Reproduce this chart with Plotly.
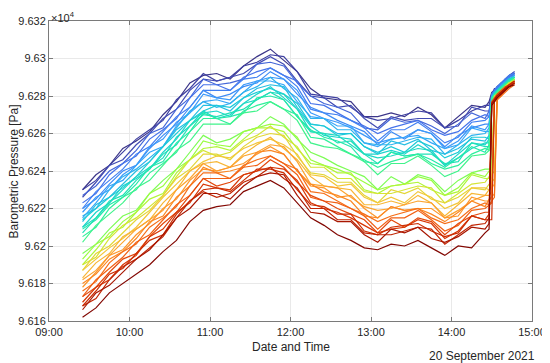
import plotly.graph_objects as go
import plotly.colors as pc

# ---- time axis (20 September 2021) ----
main_times = ["09:25", "09:35", "09:45", "09:55", "10:05", "10:15", "10:25", "10:35", "10:45", "10:55",
              "11:05", "11:15", "11:25", "11:35", "11:45", "11:55", "12:05", "12:15", "12:25", "12:35",
              "12:45", "12:55", "13:05", "13:15", "13:25", "13:35", "13:45", "13:55", "14:05", "14:15",
              "14:25", "14:28", "14:30", "14:32", "14:34", "14:37", "14:40", "14:43", "14:47"]
date = "2021-09-20"

# ---- barometric pressure per sensor [Pa] ----
sensor_01 = [96230,96238,96243,96252,96256,96261,96270,96277,96287,96291,96292,96289,96296,96301,96305,96299,96293,96284,96279,96278,96277,96269,96269,96271,96269,96274,96270,96263,96269,96275,96274,96277,96282,96283,96285,96287,96289,96291,96293]
sensor_02 = [96230,96235,96243,96250,96257,96262,96267,96278,96284,96292,96288,96290,96296,96298,96302,96301,96293,96281,96280,96279,96274,96269,96267,96268,96270,96272,96271,96263,96267,96272,96275,96275,96281,96284,96284,96286,96289,96290,96292]
sensor_03 = [96226,96234,96243,96246,96254,96260,96268,96273,96283,96289,96288,96290,96292,96297,96301,96297,96288,96280,96279,96274,96275,96268,96263,96269,96267,96268,96268,96263,96264,96274,96272,96272,96280,96282,96284,96287,96288,96290,96292]
sensor_04 = [96227,96232,96240,96244,96251,96260,96263,96273,96279,96289,96286,96287,96289,96297,96298,96296,96287,96280,96276,96274,96271,96263,96262,96268,96266,96267,96264,96260,96265,96271,96268,96272,96281,96283,96285,96286,96289,96291,96293]
sensor_05 = [96223,96228,96238,96244,96248,96257,96262,96268,96279,96286,96286,96283,96290,96293,96295,96291,96288,96276,96275,96271,96267,96264,96260,96263,96265,96267,96262,96259,96261,96267,96270,96269,96280,96282,96283,96286,96288,96290,96292]
sensor_06 = [96220,96229,96235,96241,96249,96253,96261,96269,96274,96283,96283,96283,96289,96290,96295,96291,96285,96273,96271,96270,96267,96263,96256,96262,96262,96266,96261,96255,96258,96266,96267,96269,96281,96283,96285,96287,96289,96291,96292]
sensor_07 = [96220,96225,96233,96240,96243,96252,96259,96265,96274,96283,96279,96281,96285,96287,96293,96289,96281,96274,96271,96267,96264,96261,96254,96261,96257,96262,96260,96253,96259,96263,96265,96265,96280,96282,96284,96286,96288,96290,96291]
sensor_08 = [96218,96226,96230,96238,96243,96253,96257,96266,96271,96281,96279,96278,96286,96288,96290,96289,96283,96271,96268,96266,96263,96259,96255,96257,96258,96262,96260,96252,96256,96264,96262,96265,96279,96282,96283,96286,96288,96289,96291]
sensor_09 = [96215,96223,96232,96235,96243,96250,96253,96264,96271,96277,96278,96276,96282,96288,96288,96286,96277,96269,96268,96264,96264,96255,96253,96257,96258,96259,96255,96252,96254,96263,96261,96261,96280,96281,96283,96285,96287,96289,96290]
sensor_10 = [96216,96220,96230,96237,96241,96247,96253,96263,96272,96277,96274,96276,96282,96285,96290,96284,96279,96268,96268,96262,96262,96255,96254,96254,96256,96258,96257,96249,96254,96259,96260,96263,96279,96281,96283,96285,96287,96289,96291]
sensor_11 = [96213,96222,96226,96233,96240,96245,96253,96262,96267,96275,96275,96272,96279,96284,96286,96285,96274,96265,96264,96260,96260,96253,96249,96256,96254,96257,96251,96249,96252,96257,96256,96259,96278,96281,96282,96285,96287,96288,96290]
sensor_12 = [96214,96220,96226,96231,96237,96245,96253,96260,96267,96272,96275,96274,96279,96282,96284,96281,96276,96265,96264,96259,96260,96253,96250,96253,96250,96256,96253,96247,96250,96258,96258,96257,96279,96282,96283,96285,96287,96289,96290]
sensor_13 = [96210,96218,96223,96232,96236,96241,96250,96257,96267,96271,96272,96269,96276,96281,96285,96279,96273,96264,96259,96258,96257,96249,96249,96251,96249,96254,96250,96243,96249,96255,96254,96257,96278,96280,96283,96285,96286,96288,96290]
sensor_14 = [96210,96215,96223,96230,96237,96242,96247,96258,96264,96272,96268,96270,96276,96278,96282,96281,96273,96261,96260,96259,96254,96249,96247,96248,96250,96252,96251,96243,96247,96252,96255,96255,96279,96281,96282,96284,96287,96289,96290]
sensor_15 = [96207,96215,96224,96227,96235,96241,96249,96254,96264,96270,96269,96271,96273,96278,96282,96278,96269,96261,96260,96255,96256,96249,96244,96250,96248,96249,96249,96244,96245,96255,96253,96253,96279,96281,96283,96285,96287,96288,96290]
sensor_16 = [96209,96214,96222,96226,96233,96242,96245,96255,96261,96271,96268,96269,96271,96279,96280,96278,96269,96262,96258,96256,96253,96245,96244,96250,96248,96249,96246,96242,96247,96253,96250,96254,96278,96281,96282,96284,96286,96288,96289]
sensor_17 = [96205,96210,96220,96226,96230,96239,96244,96250,96261,96268,96268,96265,96272,96275,96277,96273,96270,96258,96257,96253,96249,96246,96242,96245,96247,96249,96244,96241,96243,96249,96252,96251,96279,96280,96282,96284,96286,96288,96290]
sensor_18 = [96202,96211,96217,96223,96231,96235,96243,96251,96256,96265,96265,96265,96271,96272,96277,96273,96267,96255,96253,96252,96249,96245,96238,96244,96244,96248,96243,96237,96240,96248,96249,96251,96278,96280,96282,96284,96286,96287,96289]
sensor_19 = [96196,96201,96209,96216,96219,96228,96235,96241,96250,96259,96255,96257,96261,96263,96269,96265,96257,96250,96247,96243,96240,96237,96230,96237,96233,96238,96236,96229,96235,96239,96241,96241,96242,96280,96281,96283,96285,96287,96289]
sensor_20 = [96193,96201,96205,96213,96218,96228,96232,96241,96246,96256,96254,96253,96261,96263,96265,96264,96258,96246,96243,96241,96238,96234,96230,96232,96233,96237,96235,96227,96231,96239,96237,96240,96240,96279,96281,96283,96285,96287,96289]
sensor_21 = [96190,96198,96207,96210,96218,96225,96228,96239,96246,96252,96253,96251,96257,96263,96263,96261,96252,96244,96243,96239,96239,96230,96228,96232,96233,96234,96230,96227,96229,96238,96236,96236,96238,96240,96280,96282,96285,96287,96288]
sensor_22 = [96190,96194,96204,96211,96215,96221,96227,96237,96246,96251,96248,96250,96256,96259,96264,96258,96253,96242,96242,96236,96236,96229,96228,96228,96230,96232,96231,96223,96228,96233,96234,96237,96236,96280,96281,96283,96285,96287,96288]
sensor_23 = [96187,96196,96200,96207,96214,96219,96227,96236,96241,96249,96249,96246,96253,96258,96260,96259,96248,96239,96238,96234,96234,96227,96223,96230,96228,96231,96225,96223,96226,96231,96230,96233,96234,96236,96279,96281,96284,96286,96288]
sensor_24 = [96187,96193,96199,96204,96210,96218,96226,96233,96240,96245,96248,96247,96252,96255,96257,96254,96249,96238,96237,96232,96233,96226,96223,96226,96223,96229,96226,96220,96223,96231,96231,96230,96232,96279,96281,96282,96284,96286,96288]
sensor_25 = [96183,96191,96196,96205,96209,96214,96223,96230,96240,96244,96245,96242,96249,96254,96258,96252,96246,96237,96232,96231,96230,96222,96222,96224,96222,96227,96223,96216,96222,96228,96227,96230,96231,96233,96279,96281,96283,96286,96287]
sensor_26 = [96182,96187,96195,96202,96209,96214,96219,96230,96236,96244,96240,96242,96248,96250,96254,96253,96245,96233,96232,96231,96226,96221,96219,96220,96222,96224,96223,96215,96219,96224,96227,96227,96229,96278,96280,96282,96284,96286,96288]
sensor_27 = [96178,96186,96195,96198,96206,96212,96220,96225,96235,96241,96240,96242,96244,96249,96253,96249,96240,96232,96231,96226,96227,96220,96215,96221,96219,96220,96220,96215,96216,96226,96224,96224,96226,96228,96278,96280,96283,96285,96287]
sensor_28 = [96180,96185,96193,96197,96204,96213,96216,96226,96232,96242,96239,96240,96242,96250,96251,96249,96240,96233,96229,96227,96224,96216,96215,96221,96219,96220,96217,96213,96218,96224,96221,96225,96226,96277,96279,96281,96283,96285,96287]
sensor_29 = [96176,96181,96191,96197,96201,96210,96215,96221,96232,96239,96239,96236,96243,96246,96248,96244,96241,96229,96228,96224,96220,96217,96213,96216,96218,96220,96215,96212,96214,96220,96223,96222,96224,96226,96278,96280,96282,96284,96286]
sensor_30 = [96173,96182,96188,96194,96202,96206,96214,96222,96227,96236,96236,96236,96242,96243,96248,96244,96238,96226,96224,96223,96220,96216,96209,96215,96215,96219,96214,96208,96211,96219,96220,96222,96223,96277,96279,96281,96283,96285,96287]
sensor_31 = [96173,96178,96186,96193,96196,96205,96212,96218,96227,96236,96232,96234,96238,96240,96246,96242,96234,96227,96224,96220,96217,96214,96207,96214,96210,96215,96213,96206,96212,96216,96218,96218,96277,96279,96281,96283,96285,96286,96288]
sensor_32 = [96170,96178,96182,96190,96195,96205,96209,96218,96223,96233,96231,96230,96238,96240,96242,96241,96235,96223,96220,96218,96215,96211,96207,96209,96210,96214,96212,96204,96208,96216,96214,96217,96276,96278,96280,96282,96284,96286,96287]
sensor_33 = [96168,96176,96185,96188,96196,96203,96206,96217,96224,96230,96231,96229,96235,96241,96241,96239,96230,96222,96221,96217,96217,96208,96206,96210,96211,96212,96208,96205,96207,96216,96214,96214,96214,96277,96279,96281,96283,96285,96287]
sensor_34 = [96168,96172,96182,96189,96193,96199,96205,96215,96224,96229,96226,96228,96234,96237,96242,96236,96231,96220,96220,96214,96214,96207,96206,96206,96208,96210,96209,96201,96206,96211,96212,96215,96276,96278,96280,96282,96284,96286,96288]
sensor_35 = [96166,96175,96179,96186,96193,96198,96206,96215,96220,96228,96228,96225,96232,96237,96239,96238,96227,96218,96217,96213,96213,96206,96202,96209,96207,96210,96204,96202,96205,96210,96209,96212,96276,96278,96280,96282,96284,96285,96287]
sensor_36 = [96162,96167,96175,96180,96185,96190,96197,96203,96213,96219,96221,96222,96229,96232,96235,96231,96223,96215,96211,96206,96203,96199,96198,96201,96200,96203,96199,96195,96200,96199,96207,96209,96275,96277,96279,96281,96283,96285,96286]

sensors = [sensor_01, sensor_02, sensor_03, sensor_04, sensor_05, sensor_06, sensor_07, sensor_08, sensor_09,
           sensor_10, sensor_11, sensor_12, sensor_13, sensor_14, sensor_15, sensor_16, sensor_17, sensor_18,
           sensor_19, sensor_20, sensor_21, sensor_22, sensor_23, sensor_24, sensor_25, sensor_26, sensor_27,
           sensor_28, sensor_29, sensor_30, sensor_31, sensor_32, sensor_33, sensor_34, sensor_35, sensor_36]

# ---- y tick labels (in units of 1e4 Pa) ----
y_tickvals = [96160, 96180, 96200, 96220, 96240, 96260, 96280, 96300, 96320]
y_ticktext = ["9.616", "9.618", "9.62", "9.622", "9.624", "9.626", "9.628", "9.63", "9.632"]
x_tickvals = ["09:00", "10:00", "11:00", "12:00", "13:00", "14:00", "15:00"]

# colour position of each sensor on the Turbo colormap (style)
color_pos = [0.05, 0.065, 0.08,
             0.12, 0.14, 0.16, 0.18,
             0.20, 0.22, 0.24, 0.26,
             0.28, 0.30, 0.31,
             0.33, 0.35, 0.37, 0.39,
             0.46, 0.49, 0.52,
             0.58, 0.61, 0.64,
             0.67, 0.70, 0.72,
             0.74, 0.77, 0.79,
             0.83, 0.86, 0.88, 0.90,
             0.94, 0.99]


def turbo(f):
    cols = [pc.hex_to_rgb(c) for c in pc.sequential.Turbo]
    n = len(cols) - 1
    p = max(0.0, min(1.0, f)) * n
    i = min(int(p), n - 1)
    t = p - i
    a, b = cols[i], cols[i + 1]
    r, g, bl = (a[k] + (b[k] - a[k]) * t for k in range(3))
    return f"rgb({r:.0f},{g:.0f},{bl:.0f})"


x_full = [f"{date} {t}" for t in main_times]

fig = go.Figure()
for vals, cp in zip(sensors, color_pos):
    fig.add_trace(go.Scatter(x=x_full[:len(vals)], y=vals, mode="lines",
                             line=dict(color=turbo(cp), width=1.2),
                             hoverinfo="skip", showlegend=False))

axis_col = "#7a7a7a"
tick_font = dict(family="Arial, Liberation Sans, sans-serif", size=11, color="#262626")

# the page body adds an 8px offset, so the figure is 8px smaller than the window
fig.update_layout(
    width=542, height=355,
    margin=dict(l=41, r=18, t=13, b=42),
    paper_bgcolor="white", plot_bgcolor="white",
    template="none",
    showlegend=False,
    font=dict(family="Arial, Liberation Sans, sans-serif", size=11, color="#262626"),
)
fig.update_xaxes(
    type="date",
    range=[f"{date} 09:00", f"{date} 15:00"],
    tickvals=[f"{date} {t}" for t in x_tickvals],
    ticktext=x_tickvals,
    showline=True, linecolor=axis_col, linewidth=1, mirror="ticks",
    ticks="inside", ticklen=4, tickcolor=axis_col,
    showgrid=True, gridcolor="#e9e9e9", gridwidth=1, zeroline=False,
    tickfont=tick_font, ticklabelstandoff=1,
)
fig.update_yaxes(
    range=[96160, 96320],
    tickvals=y_tickvals, ticktext=y_ticktext,
    showline=True, linecolor=axis_col, linewidth=1, mirror="ticks",
    ticks="inside", ticklen=4, tickcolor=axis_col,
    showgrid=True, gridcolor="#e9e9e9", gridwidth=1, zeroline=False,
    tickfont=tick_font,
)

ann_font = dict(family="Arial, Liberation Sans, sans-serif", size=12, color="#262626")
fig.add_annotation(text="Date and Time", xref="paper", yref="paper", x=0.5, y=-0.087,
                   xanchor="center", yanchor="middle", showarrow=False, font=ann_font)
fig.add_annotation(text="20 September 2021", xref="paper", yref="paper", x=1.011, y=-0.115,
                   xanchor="right", yanchor="middle", showarrow=False, font=ann_font)
fig.add_annotation(text="Barometric Pressure [Pa]", xref="paper", yref="paper", x=-0.0715, y=0.5,
                   xanchor="center", yanchor="middle", textangle=-90, showarrow=False, font=ann_font)
fig.add_annotation(text="×10<sup>4</sup>", xref="paper", yref="paper", x=0.0, y=1.043,
                   xanchor="left", yanchor="top", showarrow=False,
                   font=dict(family="Arial, Liberation Sans, sans-serif", size=11, color="#262626"))

fig.write_html("out.html")
